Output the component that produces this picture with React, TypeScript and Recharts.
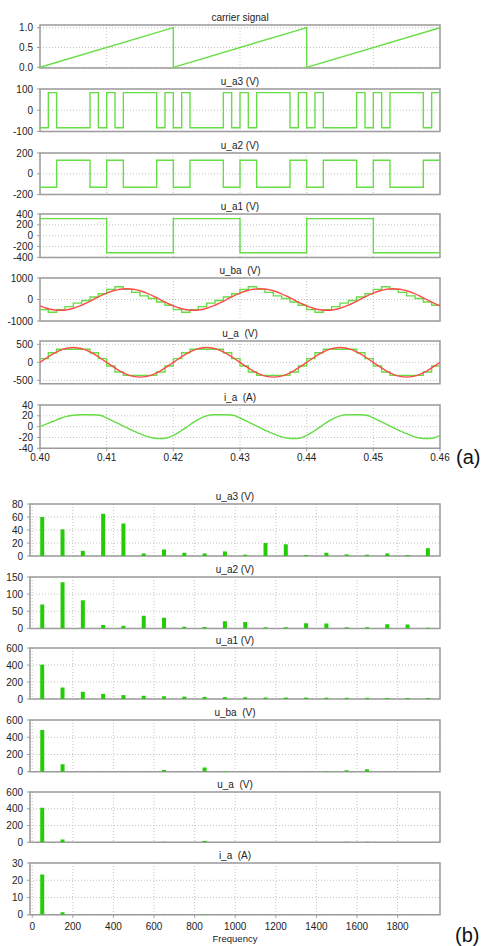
import React from 'react';
import { LineChart, Line, BarChart, Bar, XAxis, YAxis, CartesianGrid, ReferenceArea } from 'recharts';

// ---------- (a) time domain ----------
const timeTicks = [0.40, 0.41, 0.42, 0.43, 0.44, 0.45, 0.46];

const carrierT = [0.40, 0.42, 0.42, 0.44, 0.44, 0.46];
const carrierV = [0, 1, 0, 1, 0, 1];

const ua3T = [
  0.40, 0.40125, 0.4025, 0.4075, 0.40875, 0.41, 0.41125, 0.4125, 0.4175, 0.41875,
  0.42, 0.42125, 0.4225, 0.4275, 0.42875, 0.43, 0.43125, 0.4325, 0.4375, 0.43875,
  0.44, 0.44125, 0.4425, 0.4475, 0.44875, 0.45, 0.45125, 0.4525, 0.4575, 0.45875,
  0.46,
];
const ua3V = [
  -83, 83, -83, 83, -83, 83, -83, 83, -83, 83,
  -83, 83, -83, 83, -83, 83, -83, 83, -83, 83,
  -83, 83, -83, 83, -83, 83, -83, 83, -83, 83,
  83,
];

const ua2T = [
  0.40, 0.4025, 0.4075, 0.41, 0.4125, 0.4175,
  0.42, 0.4225, 0.4275, 0.43, 0.4325, 0.4375,
  0.44, 0.4425, 0.4475, 0.45, 0.4525, 0.4575,
  0.46,
];
const ua2V = [
  -130, 130, -130, 130, -130, 130,
  -130, 130, -130, 130, -130, 130,
  -130, 130, -130, 130, -130, 130,
  130,
];

const ua1T = [0.40, 0.41, 0.42, 0.43, 0.44, 0.45, 0.46];
const ua1V = [315, -315, 315, -315, 315, -315, -315];

// stepped phase voltage (same switching instants as u_a3)
const uaStepT = ua3T;
const uaStepV = [
  102, 268, 362, 268, 102, -102, -268, -362, -268, -102,
  102, 268, 362, 268, 102, -102, -268, -362, -268, -102,
  102, 268, 362, 268, 102, -102, -268, -362, -268, -102,
  -102,
];

const ubaStepT = [
  0.40, 0.40125, 0.4025, 0.40375, 0.405, 0.40625, 0.4075, 0.40875,
  0.41, 0.41125, 0.4125, 0.41375, 0.415, 0.41625, 0.4175, 0.41875,
  0.42, 0.42125, 0.4225, 0.42375, 0.425, 0.42625, 0.4275, 0.42875,
  0.43, 0.43125, 0.4325, 0.43375, 0.435, 0.43625, 0.4375, 0.43875,
  0.44, 0.44125, 0.4425, 0.44375, 0.445, 0.44625, 0.4475, 0.44875,
  0.45, 0.45125, 0.4525, 0.45375, 0.455, 0.45625, 0.4575, 0.45875,
  0.46,
];
const ubaStepV = [
  -470, -590, -470, -330, -170, -45, 115, 265,
  470, 590, 470, 330, 170, 45, -115, -265,
  -470, -590, -470, -330, -170, -45, 115, 265,
  470, 590, 470, 330, 170, 45, -115, -265,
  -470, -590, -470, -330, -170, -45, 115, 265,
  470, 590, 470, 330, 170, 45, -115, -265,
  -470,
];

const sampleT = [
  0.400, 0.401, 0.402, 0.403, 0.404, 0.405, 0.406, 0.407, 0.408, 0.409,
  0.410, 0.411, 0.412, 0.413, 0.414, 0.415, 0.416, 0.417, 0.418, 0.419,
  0.420, 0.421, 0.422, 0.423, 0.424, 0.425, 0.426, 0.427, 0.428, 0.429,
  0.430, 0.431, 0.432, 0.433, 0.434, 0.435, 0.436, 0.437, 0.438, 0.439,
  0.440, 0.441, 0.442, 0.443, 0.444, 0.445, 0.446, 0.447, 0.448, 0.449,
  0.450, 0.451, 0.452, 0.453, 0.454, 0.455, 0.456, 0.457, 0.458, 0.459,
  0.460,
];
const uaRedV = [
  0, 127, 241, 332, 390, 410, 390, 332, 241, 127,
  0, -127, -241, -332, -390, -410, -390, -332, -241, -127,
  0, 127, 241, 332, 390, 410, 390, 332, 241, 127,
  0, -127, -241, -332, -390, -410, -390, -332, -241, -127,
  0, 127, 241, 332, 390, 410, 390, 332, 241, 127,
  0, -127, -241, -332, -390, -410, -390, -332, -241, -127,
  0,
];
const ubaRedV = [
  -294, -405, -476, -500, -476, -405, -294, -155, 0, 155,
  294, 405, 476, 500, 476, 405, 294, 155, 0, -155,
  -294, -405, -476, -500, -476, -405, -294, -155, 0, 155,
  294, 405, 476, 500, 476, 405, 294, 155, 0, -155,
  -294, -405, -476, -500, -476, -405, -294, -155, 0, 155,
  294, 405, 476, 500, 476, 405, 294, 155, 0, -155,
  -294,
];
const iaV = [
  0, 5, 10, 15, 19, 21, 22, 22, 22, 21,
  16, 10, 4, -2, -8, -13, -18, -21, -22, -21,
  -16, -9, -1, 8, 15, 20, 22, 22, 22, 21,
  16, 10, 4, -2, -8, -13, -18, -21, -22, -21,
  -16, -9, -1, 8, 15, 20, 22, 22, 22, 21,
  16, 10, 4, -2, -8, -13, -18, -21, -22, -21,
  -16,
];

// ---------- (b) spectra ----------
const freqs = [50, 150, 250, 350, 450, 550, 650, 750, 850, 950, 1050, 1150, 1250, 1350, 1450, 1550, 1650, 1750, 1850, 1950];
const freqTicks = [0, 200, 400, 600, 800, 1000, 1200, 1400, 1600, 1800];
const ua3Spec = [60, 41, 8, 65, 50, 4, 10, 5, 4, 7, 2, 20, 18, 1.5, 5, 2.5, 2, 4, 1.5, 12];
const ua2Spec = [70, 135, 82, 10, 8, 37, 31, 5, 4, 21, 19, 3, 3, 15, 14, 3, 3, 12, 11, 2];
const ua1Spec = [405, 135, 85, 60, 46, 38, 32, 28, 25, 22, 20, 18, 17, 16, 15, 14, 13, 12, 12, 11];
const ubaSpec = [485, 85, 1, 3, 1, 2, 20, 1, 50, 8, 1, 0.5, 2, 3, 4, 18, 27, 1, 1, 0.5];
const uaSpec = [413, 32, 0.5, 0.5, 0.5, 0.5, 7, 0.5, 16, 1, 0.5, 0.5, 0.5, 0.5, 0.5, 7, 8, 0.5, 0.5, 0.5];
const iaSpec = [23.3, 1.5, 0, 0, 0, 0, 0.1, 0, 0.3, 0, 0, 0, 0, 0, 0, 0.1, 0.1, 0, 0, 0];

const GREEN = '#66dd44';
const RED = '#ff4a4a';
const BAR = '#24cc08';
const FRAME = '#9c9c9c';
const GRID = '#c2c2c2';
const FONT = '"Liberation Sans", Arial, sans-serif';
const tickStyle = { fontSize: 10, fill: '#222', fontFamily: FONT };

const pts = (t: number[], v: number[]) => t.map((x, i) => ({ t: x, v: v[i] }));
const blank = () => '';

type Series = { data: { t: number; v: number }[]; color: string; type: any };

function Title({ text, left, width, top }: { text: string; left: number; width: number; top: number }) {
  return (
    <div style={{ position: 'absolute', left, width, top: top - 13, height: 12, lineHeight: '12px', fontSize: 10, textAlign: 'center', color: '#222', whiteSpace: 'pre', fontFamily: FONT }}>
      {text}
    </div>
  );
}

function TimePanel({ title, top, bottom, domain, ticks, fmt, series, showX }: {
  title: string; top: number; bottom: number; domain: [number, number]; ticks: number[];
  fmt?: (v: number) => string; series: Series[]; showX?: boolean;
}) {
  const mt = 8;
  const xh = 18;
  const mb = 0;
  const h = bottom - top;
  return (
    <>
      <Title text={title} left={40} width={400} top={top} />
      <div style={{ position: 'absolute', left: 0, top: top - mt }}>
        <LineChart width={484} height={h + mt + mb + xh} margin={{ top: mt, right: 44, bottom: mb, left: 0 }}>
          <CartesianGrid stroke={GRID} strokeDasharray="1 2" />
          <XAxis
            type="number" dataKey="t" domain={[0.40, 0.46]} ticks={timeTicks} allowDataOverflow interval={0}
            height={xh} axisLine={false}
            tick={tickStyle} tickLine={{ stroke: showX ? FRAME : 'none' }}
            tickSize={3} tickMargin={3}
            tickFormatter={showX ? (v: number) => v.toFixed(2) : blank}
          />
          <YAxis
            type="number" domain={domain} ticks={ticks} allowDataOverflow width={40} interval={0}
            axisLine={false} tick={tickStyle} tickLine={{ stroke: FRAME }} tickSize={3} tickMargin={4}
            tickFormatter={fmt}
          />
          <ReferenceArea x1={0.40} x2={0.46} y1={domain[0]} y2={domain[1]} fill="none" fillOpacity={0} stroke={FRAME} strokeWidth={1.5} />
          {series.map((s, i) => (
            <Line key={i} data={s.data} dataKey="v" type={s.type} stroke={s.color} strokeWidth={1.4}
              dot={false} activeDot={false} isAnimationActive={false} />
          ))}
        </LineChart>
      </div>
    </>
  );
}

function SpecPanel({ title, top, bottom, domain, ticks, values, showX }: {
  title: string; top: number; bottom: number; domain: [number, number]; ticks: number[];
  values: number[]; showX?: boolean;
}) {
  const mt = 8;
  const xh = 20;
  const mb = 0;
  const h = bottom - top;
  const data = freqs.map((f, i) => ({ f, v: values[i] }));
  return (
    <>
      <Title text={title} left={30} width={410} top={top} />
      <div style={{ position: 'absolute', left: 0, top: top - mt }}>
        <BarChart width={484} height={h + mt + mb + xh} data={data} margin={{ top: mt, right: 44, bottom: mb, left: 0 }} barSize={4}>
          <CartesianGrid stroke={GRID} strokeDasharray="1 2" />
          <XAxis
            type="number" dataKey="f" domain={[-11, 2009]} ticks={freqTicks} allowDataOverflow interval={0}
            height={xh} axisLine={false}
            tick={tickStyle} tickLine={{ stroke: showX ? FRAME : 'none' }}
            tickSize={3} tickMargin={5}
            tickFormatter={showX ? undefined : blank}
          />
          <YAxis
            type="number" domain={domain} ticks={ticks} allowDataOverflow width={30} interval={0}
            axisLine={false} tick={tickStyle} tickLine={{ stroke: FRAME }} tickSize={3} tickMargin={4}
          />
          <ReferenceArea x1={-11} x2={2009} y1={domain[0]} y2={domain[1]} fill="none" fillOpacity={0} stroke={FRAME} strokeWidth={1.5} />
          <Bar dataKey="v" fill={BAR} isAnimationActive={false} />
        </BarChart>
      </div>
    </>
  );
}

export default function App() {
  return (
    <div style={{ position: 'absolute', left: 0, top: 0, width: 484, height: 946, background: '#fff', fontFamily: FONT, overflow: 'hidden' }}>
      <TimePanel title="carrier signal" top={25} bottom={68} domain={[-0.017, 1.068]} ticks={[0, 0.5, 1]}
        fmt={(v) => v.toFixed(1)} series={[{ data: pts(carrierT, carrierV), color: GREEN, type: 'linear' }]} />
      <TimePanel title="u_a3 (V)" top={89.3} bottom={131.7} domain={[-100, 100]} ticks={[-100, 0, 100]}
        series={[{ data: pts(ua3T, ua3V), color: GREEN, type: 'stepAfter' }]} />
      <TimePanel title="u_a2 (V)" top={152.7} bottom={194.3} domain={[-200, 200]} ticks={[-200, 0, 200]}
        series={[{ data: pts(ua2T, ua2V), color: GREEN, type: 'stepAfter' }]} />
      <TimePanel title="u_a1 (V)" top={214.3} bottom={257.7} domain={[-400, 400]} ticks={[-400, -200, 0, 200, 400]}
        series={[{ data: pts(ua1T, ua1V), color: GREEN, type: 'stepAfter' }]} />
      <TimePanel title="u_ba  (V)" top={277.7} bottom={320.7} domain={[-1000, 1000]} ticks={[-1000, 0, 1000]}
        series={[
          { data: pts(ubaStepT, ubaStepV), color: GREEN, type: 'stepAfter' },
          { data: pts(sampleT, ubaRedV), color: RED, type: 'natural' },
        ]} />
      <TimePanel title="u_a  (V)" top={341.3} bottom={384} domain={[-592, 592]} ticks={[-500, 0, 500]}
        series={[
          { data: pts(uaStepT, uaStepV), color: GREEN, type: 'stepAfter' },
          { data: pts(sampleT, uaRedV), color: RED, type: 'natural' },
        ]} />
      <TimePanel title="i_a  (A)" top={404.7} bottom={448} domain={[-40, 40]} ticks={[-40, -20, 0, 20, 40]}
        series={[{ data: pts(sampleT, iaV), color: GREEN, type: 'monotone' }]} showX />
      <div style={{ position: 'absolute', left: 456, top: 447, fontSize: 20, lineHeight: '20px', color: '#111' }}>(a)</div>

      <SpecPanel title="u_a3 (V)" top={504.3} bottom={556.3} domain={[0, 80]} ticks={[0, 20, 40, 60, 80]} values={ua3Spec} />
      <SpecPanel title="u_a2 (V)" top={577.3} bottom={628.7} domain={[0, 150]} ticks={[0, 50, 100, 150]} values={ua2Spec} />
      <SpecPanel title="u_a1 (V)" top={648.3} bottom={699.3} domain={[0, 600]} ticks={[0, 200, 400, 600]} values={ua1Spec} />
      <SpecPanel title="u_ba  (V)" top={720} bottom={771.7} domain={[0, 600]} ticks={[0, 200, 400, 600]} values={ubaSpec} />
      <SpecPanel title="u_a  (V)" top={791.7} bottom={842} domain={[0, 600]} ticks={[0, 200, 400, 600]} values={uaSpec} />
      <SpecPanel title="i_a  (A)" top={862.7} bottom={914.5} domain={[0, 30]} ticks={[0, 10, 20, 30]} values={iaSpec} showX />
      <div style={{ position: 'absolute', left: 30, width: 410, top: 933, height: 12, lineHeight: '12px', fontSize: 9.5, textAlign: 'center', color: '#222' }}>Frequency</div>
      <div style={{ position: 'absolute', left: 455, top: 925, fontSize: 20, lineHeight: '20px', color: '#111' }}>(b)</div>
    </div>
  );
}
